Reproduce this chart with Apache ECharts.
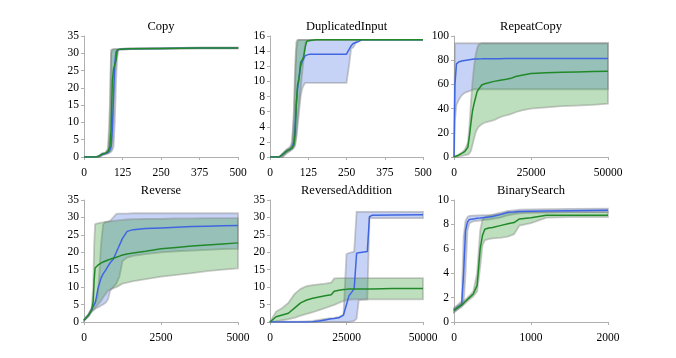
<!DOCTYPE html>
<html>
<head>
<meta charset="utf-8">
<script src="https://cdn.jsdelivr.net/npm/echarts@6/dist/echarts.min.js"></script>
<style>
  html, body { margin: 0; padding: 0; background: #fff; }
  #ec { width: 676px; height: 358px; }
</style>
</head>
<body>
<div id="ec"></div>
<script>
// Copy
const copyX      = [0, 40, 50, 60, 70, 78, 84, 88, 92, 96, 100, 104, 108, 112, 120, 150, 250, 375, 500];
const copyBlue   = [0, 0, 0.3, 0.8, 1.0, 1.3, 2, 3, 8, 18, 27, 30.5, 31, 31.1, 31.2, 31.3, 31.4, 31.5, 31.5];
const copyBlueLo = [0, 0, 0, 0.5, 0.8, 1, 1.3, 1.5, 2, 3, 10, 22, 29, 31, 31.1, 31.2, 31.3, 31.4, 31.4];
const copyBlueHi = [0, 0, 0.4, 1, 1.2, 2, 8, 30, 31, 31.1, 31.2, 31.2, 31.2, 31.2, 31.3, 31.4, 31.5, 31.6, 31.6];
const copyGreen   = [0, 0, 0.3, 0.9, 1.1, 1.6, 3, 8, 22, 25.5, 26, 28, 31, 31.1, 31.2, 31.3, 31.4, 31.5, 31.5];
const copyGreenLo = [0, 0, 0, 0.6, 0.9, 1.2, 1.5, 2, 4, 15, 24, 28, 30.5, 31, 31.1, 31.2, 31.3, 31.4, 31.4];
const copyGreenHi = [0, 0, 0.4, 1.1, 1.3, 2.5, 15, 31, 31.1, 31.2, 31.2, 31.2, 31.2, 31.2, 31.3, 31.4, 31.5, 31.6, 31.6];

// DuplicatedInput
const dupX      = [0, 30, 40, 55, 65, 72, 78, 82, 86, 90, 95, 100, 105, 110, 115, 120, 130, 150, 200, 250, 258, 265, 272, 285, 300, 375, 500];
const dupBlue   = [0, 0, 0.3, 0.8, 1.0, 1.3, 2, 4, 7, 9, 10.5, 12, 12.6, 13, 13.4, 13.6, 13.6, 13.6, 13.6, 13.6, 14.2, 14.7, 15.0, 15.2, 15.5, 15.5, 15.5];
const dupBlueLo = [0, 0, 0, 0.6, 0.8, 1.0, 1.2, 1.5, 2.5, 4, 6, 8, 9, 9.5, 9.8, 9.8, 9.8, 9.8, 9.8, 9.8, 12, 14.3, 14.5, 15.4, 15.5, 15.5, 15.5];
const dupBlueHi = [0, 0, 0.4, 1, 1.2, 1.6, 5, 10, 14, 15.3, 15.5, 15.5, 15.5, 15.5, 15.5, 15.5, 15.5, 15.5, 15.5, 15.5, 15.5, 15.5, 15.5, 15.5, 15.5, 15.5, 15.5];
const dupGreen   = [0, 0, 0.3, 0.8, 1.0, 1.2, 1.6, 3, 7, 9.5, 10.5, 12.5, 12.8, 13.3, 14.5, 15.3, 15.4, 15.5, 15.5, 15.5, 15.5, 15.5, 15.5, 15.5, 15.5, 15.5, 15.5];
const dupGreenLo = [0, 0, 0, 0.5, 0.8, 1.0, 1.3, 1.8, 3, 5, 7, 9, 11, 13, 15, 15.3, 15.4, 15.5, 15.5, 15.5, 15.5, 15.5, 15.5, 15.5, 15.5, 15.5, 15.5];
const dupGreenHi = [0, 0, 0.4, 1, 1.3, 2, 6, 12, 15.2, 15.5, 15.5, 15.5, 15.5, 15.5, 15.5, 15.5, 15.5, 15.5, 15.5, 15.5, 15.5, 15.5, 15.5, 15.5, 15.5, 15.5, 15.5];

// RepeatCopy
const repX      = [0, 300, 800, 1500, 2500, 3500, 4500, 5000, 5500, 6000, 6500, 7000, 7500, 8000, 9000, 10000, 13000, 15000, 17000, 18500, 20000, 22000, 25000, 30000, 35000, 40000, 45000, 50000];
const repBlue   = [0, 60, 77, 78.5, 79.3, 79.8, 80.2, 80.4, 80.6, 80.8, 80.9, 81, 81, 81, 81.1, 81.2, 81.3, 81.3, 81.4, 81.4, 81.4, 81.5, 81.5, 81.5, 81.5, 81.5, 81.5, 81.5];
const repBlueLo = [0, 30, 43, 47, 51, 53, 54, 54.5, 55, 55.5, 56, 56, 56, 56, 56, 56, 56, 56, 56, 56, 56, 56, 56, 56, 56, 56, 56, 56];
const repBlueHi = [0, 94, 94, 94, 94, 94, 94, 94, 94, 94, 94, 94, 94, 94, 94, 94, 94, 94, 94, 94, 94, 94, 94, 94, 94, 94, 94, 94];
const repGreen   = [0, 0.3, 0.8, 1.5, 3, 4.5, 8, 17, 28, 38, 44, 49, 54, 56, 59.5, 60.5, 62.5, 63.5, 64.3, 65, 66.5, 67.5, 69, 69.6, 70, 70.3, 70.6, 70.8];
const repGreenLo = [0, 0, 0.2, 0.5, 1, 1.5, 2, 3, 5, 10, 15, 20, 23, 25, 27, 28.5, 30.5, 33, 34.5, 35.5, 37, 38.5, 40, 41, 42, 42.5, 43, 44];
const repGreenHi = [0, 0.5, 1, 2, 3.5, 6, 12, 25, 45, 62, 75, 84, 90, 93, 94, 94, 94, 94, 94, 94, 94, 94, 94, 94, 94, 94, 94, 94];

// Reverse
const revX      = [0, 150, 250, 300, 330, 360, 400, 450, 500, 550, 620, 700, 780, 850, 950, 1050, 1150, 1250, 1400, 1600, 2000, 2500, 3000, 3500, 4000, 4500, 5000];
const revBlue   = [0.5, 2, 3.5, 4.5, 5, 5.5, 7, 9.5, 11, 12.5, 13.8, 14.8, 16, 17, 18, 20, 22, 24, 26, 26.5, 26.8, 27, 27.2, 27.4, 27.5, 27.6, 27.7];
const revBlueLo = [0.4, 1.7, 3, 3.3, 3.5, 3.7, 4, 4.2, 4.4, 4.7, 5, 5.5, 6.5, 9, 10, 11, 13, 17.5, 18.5, 19, 19.5, 20, 20.3, 20.5, 20.7, 20.9, 21];
const revBlueHi = [0.6, 2.3, 4, 4.5, 5, 5.5, 6, 8, 14, 22, 28, 28.7, 28.8, 29, 30, 31, 31.1, 31.1, 31.1, 31.2, 31.2, 31.2, 31.2, 31.2, 31.2, 31.2, 31.2];
const revGreen   = [0.5, 2, 3.5, 6, 12, 15.5, 16, 16.3, 16.6, 16.9, 17.2, 17.5, 17.8, 18, 18.3, 18.6, 18.9, 19.2, 19.5, 19.8, 20.3, 21, 21.4, 21.8, 22.1, 22.4, 22.7];
const revGreenLo = [0.4, 1.7, 3, 3.5, 3.8, 4, 4.5, 5, 5.5, 6, 7, 8, 9, 9.3, 9.7, 10, 10.5, 11, 11.3, 11.7, 12.3, 13, 13.5, 14, 14.6, 15, 15.4];
const revGreenHi = [0.6, 2.3, 4, 10, 22, 28, 28.2, 28.3, 28.4, 28.5, 28.6, 28.7, 28.8, 28.9, 29, 29.1, 29.2, 29.3, 29.4, 29.5, 29.6, 29.6, 29.7, 29.7, 29.8, 29.8, 29.8];

// ReversedAddition
const raX      = [0, 2000, 4000, 6000, 8000, 10000, 12000, 14000, 16000, 18000, 20000, 21000, 22500, 24000, 25000, 25800, 27500, 28300, 29000, 31800, 32500, 33300, 40000, 50000];
const raBlue   = [0, 0, 0, 0, 0, 0, 0, 0.1, 0.3, 0.6, 0.9, 1, 1.2, 2, 5, 7.5, 9.5, 19.7, 19.9, 20.2, 30.2, 30.6, 30.7, 30.8];
const raBlueLo = [0, 0, 0, 0, 0, 0, 0, 0, 0, 0, 0, 0, 0, 0, 0, 0, 0.3, 1, 6.3, 6.5, 29.8, 29.8, 29.8, 29.8];
const raBlueHi = [0.1, 0.1, 0.1, 0.1, 0.1, 0.1, 0.2, 0.3, 0.6, 0.9, 1.1, 1.2, 1.5, 2, 19.5, 19.8, 20.2, 31.6, 31.6, 31.6, 31.6, 31.6, 31.6, 31.6];
const raGreen   = [0, 1.5, 2, 2.5, 4, 5.5, 6.3, 6.8, 7.2, 7.5, 7.8, 8.8, 9.1, 9.3, 9.4, 9.5, 9.5, 9.5, 9.5, 9.5, 9.5, 9.5, 9.6, 9.6];
const raGreenLo = [0, 0.2, 0.5, 0.8, 1.2, 1.8, 2.3, 2.8, 3.4, 4, 4.6, 4.9, 5.5, 6, 6.3, 6.4, 6.5, 6.5, 6.5, 6.5, 6.5, 6.5, 6.5, 6.5];
const raGreenHi = [0, 3, 4, 5.5, 8, 9.5, 10.3, 10.6, 10.8, 11, 11.3, 12.5, 12.6, 12.6, 12.6, 12.6, 12.6, 12.6, 12.6, 12.6, 12.6, 12.6, 12.6, 12.6];

// BinarySearch
const bsX      = [0, 50, 100, 125, 150, 175, 200, 250, 300, 340, 370, 400, 450, 500, 600, 700, 780, 850, 1000, 1200, 1500, 2000];
const bsBlue   = [0.95, 1.2, 1.45, 4, 7.5, 8.2, 8.4, 8.45, 8.5, 8.52, 8.55, 8.57, 8.6, 8.65, 8.8, 9, 9.02, 9.05, 9.08, 9.1, 9.12, 9.15];
const bsBlueLo = [0.8, 1.05, 1.3, 1.5, 4, 7.5, 8.1, 8.25, 8.3, 8.32, 8.35, 8.38, 8.4, 8.45, 8.55, 8.75, 8.85, 8.9, 8.95, 8.97, 9.0, 9.0];
const bsBlueHi = [1.15, 1.4, 1.7, 7, 8.3, 8.6, 8.7, 8.72, 8.73, 8.74, 8.75, 8.75, 8.75, 8.8, 8.95, 9.1, 9.15, 9.2, 9.22, 9.25, 9.28, 9.3];
const bsGreen   = [0.95, 1.2, 1.4, 1.55, 1.7, 1.85, 2, 2.3, 3, 6, 7.1, 7.6, 7.7, 7.75, 7.9, 8.05, 8.15, 8.45, 8.55, 8.75, 8.75, 8.75];
const bsGreenLo = [0.8, 1.05, 1.25, 1.4, 1.55, 1.7, 1.85, 2.1, 2.5, 4.5, 6.3, 6.7, 6.8, 6.85, 6.9, 7, 7.2, 7.9, 8.1, 8.55, 8.6, 8.6];
const bsGreenHi = [1.1, 1.35, 1.55, 1.7, 1.85, 2, 2.15, 2.5, 4, 7.5, 8.4, 8.6, 8.7, 8.75, 8.85, 8.95, 9, 9, 9, 9, 9, 9];

const titles = ['Copy', 'DuplicatedInput', 'RepeatCopy', 'Reverse', 'ReversedAddition', 'BinarySearch'];
const xMax = [500, 500, 50000, 5000, 50000, 2000];
const xStep = [125, 125, 25000, 2500, 25000, 1000];
const yMax = [35, 16, 100, 35, 35, 10];
const yStep = [5, 2, 20, 5, 5, 2];

const panels = [
  [copyX, copyBlue, copyBlueLo, copyBlueHi, copyGreen, copyGreenLo, copyGreenHi],
  [dupX, dupBlue, dupBlueLo, dupBlueHi, dupGreen, dupGreenLo, dupGreenHi],
  [repX, repBlue, repBlueLo, repBlueHi, repGreen, repGreenLo, repGreenHi],
  [revX, revBlue, revBlueLo, revBlueHi, revGreen, revGreenLo, revGreenHi],
  [raX, raBlue, raBlueLo, raBlueHi, raGreen, raGreenLo, raGreenHi],
  [bsX, bsBlue, bsBlueLo, bsBlueHi, bsGreen, bsGreenLo, bsGreenHi]
];

const FONT = 'Liberation Serif';
const BLUE = '#3f66e0';
const GREEN = '#22892a';

const lefts = [84, 270, 454];
const widths = [154, 153, 154];
const tops = [36, 200];
const heights = [121, 122];

const grids = [], xAxes = [], yAxes = [], titleList = [], series = [];

function band(gi, xs, lo, hi, fill) {
  const pts = xs.map((x, i) => [x, lo[i], hi[i]]);
  return {
    type: 'custom', xAxisIndex: gi, yAxisIndex: gi, silent: true, z: 1,
    encode: { x: 0, y: [1, 2] },
    data: pts,
    renderItem: (params, api) => {
      if (params.dataIndex !== 0) return;
      const upper = pts.map(p => api.coord([p[0], p[2]]));
      const lower = pts.map(p => api.coord([p[0], p[1]])).reverse();
      return {
        type: 'polygon',
        shape: { points: upper.concat(lower) },
        style: { fill: fill, stroke: 'rgba(128,128,128,0.4)', lineWidth: 1.8 }
      };
    }
  };
}

function line(gi, xs, ys, color) {
  return {
    type: 'line', xAxisIndex: gi, yAxisIndex: gi, showSymbol: false, z: 3, silent: true,
    data: xs.map((x, i) => [x, ys[i]]),
    lineStyle: { color: color, width: 1.5 }
  };
}

for (let i = 0; i < 6; i++) {
  const r = Math.floor(i / 3), c = i % 3;
  grids.push({ left: lefts[c], width: widths[c], top: tops[r], height: heights[r] });
  titleList.push({
    text: titles[i], left: lefts[c] + widths[c] / 2, top: tops[r] - 16, textAlign: 'center', padding: 0,
    textStyle: { fontFamily: FONT, fontSize: 12.5, fontWeight: 'normal', color: '#000' }
  });
  const axisCommon = {
    type: 'value', gridIndex: i, min: 0,
    splitLine: { show: false },
    axisLine: { show: true, onZero: false, lineStyle: { color: '#b0b0b0', width: 1 } },
    axisTick: { show: true, length: 3, lineStyle: { color: '#b0b0b0' } },
    axisLabel: { fontFamily: FONT, fontSize: 11.5, color: '#000', showMaxLabel: true, showMinLabel: true, formatter: v => String(v) }
  };
  xAxes.push(Object.assign({}, axisCommon, { max: xMax[i], interval: xStep[i], axisLabel: Object.assign({}, axisCommon.axisLabel, { margin: 10 }) }));
  yAxes.push(Object.assign({}, axisCommon, { max: yMax[i], interval: yStep[i], axisLabel: Object.assign({}, axisCommon.axisLabel, { margin: 5 }) }));

  const [xs, b, bLo, bHi, g, gLo, gHi] = panels[i];
  series.push(band(i, xs, bLo, bHi, 'rgba(70,110,225,0.3)'));
  series.push(band(i, xs, gLo, gHi, 'rgba(40,150,40,0.3)'));
  series.push(line(i, xs, b, BLUE));
  series.push(line(i, xs, g, GREEN));
}

const myEchart = echarts.init(document.getElementById('ec'));
myEchart.setOption({
  animation: false,
  backgroundColor: '#fff',
  title: titleList,
  grid: grids,
  xAxis: xAxes,
  yAxis: yAxes,
  series: series
});
</script>
</body>
</html>
